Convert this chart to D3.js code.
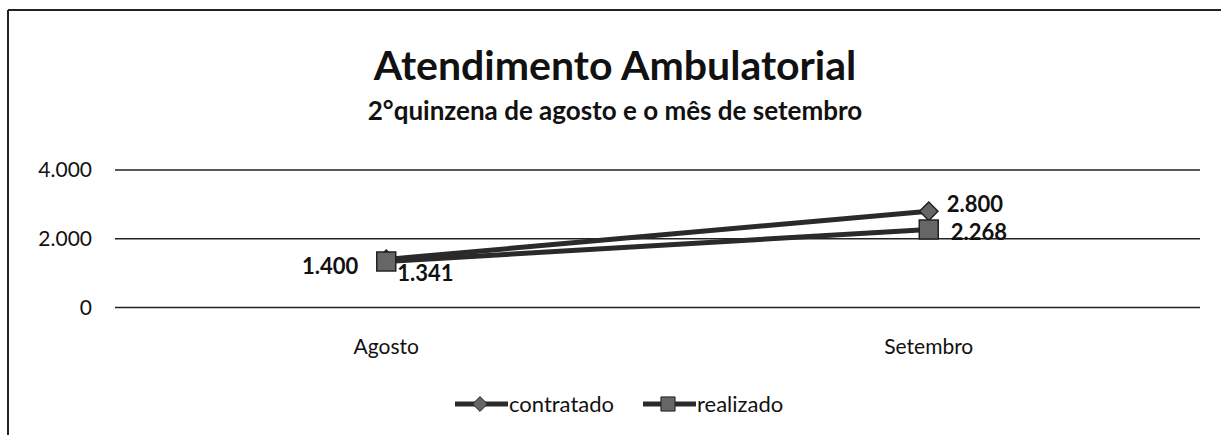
<!DOCTYPE html>
<html><head><meta charset="utf-8">
<script src="https://cdn.jsdelivr.net/npm/d3@7"></script>
<style>body{margin:0;background:#fff}svg{display:block}text{font-family:Lato,"Open Sans",sans-serif}</style>
</head><body><svg id="c" width="1221" height="435"></svg>
<script>
const categories = ["Agosto", "Setembro"];
const contratado = [1400, 2800];
const realizado = [1341, 2268];
const seriesNames = ["contratado", "realizado"];
const yTicks = [0, 2000, 4000];
const labelsContratado = ["1.400", "2.800"];
const labelsRealizado = ["1.341", "2.268"];

const svg = d3.select("#c");
const W = 1221, H = 435;
const m = {left:115, right:1200, top:170, bottom:307.5};

// frame (scanned page border: left and top)
svg.append("line").attr("x1",8).attr("x2",8).attr("y1",10).attr("y2",H).attr("stroke","#222").attr("stroke-width",2);
svg.append("line").attr("x1",8).attr("x2",W).attr("y1",10).attr("y2",10).attr("stroke","#222").attr("stroke-width",2);

svg.append("text").attr("x",615).attr("y",80).attr("text-anchor","middle")
  .attr("font-size",41).attr("font-weight","bold").attr("fill","#111").text("Atendimento  Ambulatorial");
svg.append("text").attr("x",615).attr("y",120).attr("text-anchor","middle")
  .attr("font-size",26).attr("font-weight","bold").attr("fill","#111").text("2°quinzena de agosto e o mês de setembro");

const x = d3.scaleBand().domain(categories).range([m.left, m.right]);
const y = d3.scaleLinear().domain([0, 4000]).range([m.bottom, m.top]);

const fmt = v => d3.format(",")(v).replace(/,/g, ".");

// gridlines
svg.append("g").selectAll("line").data(yTicks).join("line")
  .attr("x1", m.left).attr("x2", m.right)
  .attr("y1", d => y(d)).attr("y2", d => y(d))
  .attr("stroke", "#222").attr("stroke-width", 1.5);

// y labels
svg.append("g").selectAll("text").data(yTicks).join("text")
  .attr("x", 92).attr("y", d => y(d)).attr("dy","0.35em").attr("text-anchor","end")
  .attr("font-size",21).attr("fill","#111").text(fmt);

// x labels
svg.append("g").selectAll("text").data(categories).join("text")
  .attr("x", d => x(d) + x.bandwidth()/2).attr("y", 354).attr("text-anchor","middle")
  .attr("font-size",21).attr("fill","#111").text(d => d);

const cx = d => x(d) + x.bandwidth()/2;
const lineGen = d3.line().x(d => cx(d.c)).y(d => y(d.v));
const dataC = categories.map((c,i)=>({c, v: contratado[i]}));
const dataR = categories.map((c,i)=>({c, v: realizado[i]}));

[dataC, dataR].forEach(dt => {
  svg.append("path").datum(dt).attr("d", lineGen).attr("fill","none")
    .attr("stroke","#2a2a2a").attr("stroke-width",5);
});

const diamondType = {draw(ctx, size){const r=Math.sqrt(size/2); ctx.moveTo(0,-r); ctx.lineTo(r,0); ctx.lineTo(0,r); ctx.lineTo(-r,0); ctx.closePath();}};
const diamond = d3.symbol().type(diamondType).size(170);
const square = d3.symbol().type(d3.symbolSquare).size(360);

svg.append("g").selectAll("path").data(dataC).join("path")
  .attr("transform", d => `translate(${cx(d.c)},${y(d.v)})`).attr("d", diamond)
  .attr("fill","#666").attr("stroke","#222").attr("stroke-width",1.5);
svg.append("g").selectAll("path").data(dataR).join("path")
  .attr("transform", d => `translate(${cx(d.c)},${y(d.v)})`).attr("d", square)
  .attr("fill","#666").attr("stroke","#222").attr("stroke-width",1.5);

// data labels
const lblC = [{dx:-28, dy:15, a:"end"}, {dx:18, dy:1, a:"start"}];
const lblR = [{dx:11, dy:20, a:"start"}, {dx:22, dy:10, a:"start"}];
svg.append("g").selectAll("text").data(dataC).join("text")
  .attr("x",(d,i)=>cx(d.c)+lblC[i].dx).attr("y",(d,i)=>y(d.v)+lblC[i].dy)
  .attr("text-anchor",(d,i)=>lblC[i].a)
  .attr("font-size",22).attr("font-weight","bold").attr("fill","#111")
  .text((d,i)=>labelsContratado[i]);
svg.append("g").selectAll("text").data(dataR).join("text")
  .attr("x",(d,i)=>cx(d.c)+lblR[i].dx).attr("y",(d,i)=>y(d.v)+lblR[i].dy)
  .attr("text-anchor",(d,i)=>lblR[i].a)
  .attr("font-size",22).attr("font-weight","bold").attr("fill","#111")
  .text((d,i)=>labelsRealizado[i]);

// legend
const leg = [{x:455, name:seriesNames[0]}, {x:643, name:seriesNames[1]}];
const symL = [d3.symbol().type(diamondType).size(110), d3.symbol().type(d3.symbolSquare).size(200)];
leg.forEach((l,i) => {
  const g = svg.append("g").attr("transform",`translate(${l.x},404)`);
  g.append("line").attr("x1",0).attr("x2",53).attr("stroke","#2a2a2a").attr("stroke-width",5);
  g.append("path").attr("transform","translate(25,0)").attr("d", symL[i]).attr("fill","#666").attr("stroke","#222");
  g.append("text").attr("x",54).attr("y",0).attr("dy","0.35em").attr("font-size",22).attr("fill","#111").text(l.name);
});
</script></body></html>
